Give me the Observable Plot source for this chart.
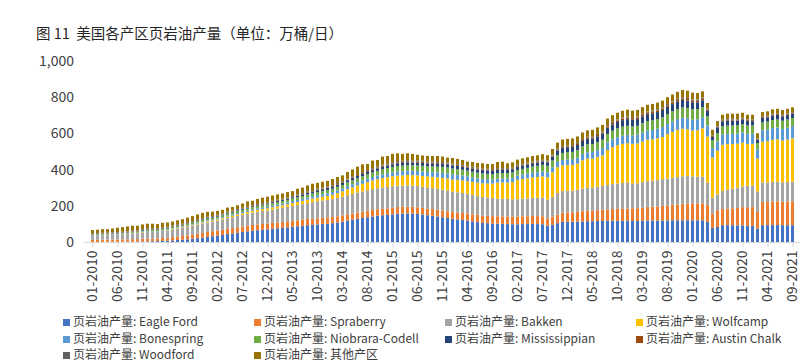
<!DOCTYPE html>
<html><head><meta charset="utf-8">
<script src="https://cdn.jsdelivr.net/npm/d3@7"></script>
<script src="https://cdn.jsdelivr.net/npm/@observablehq/plot@0.6"></script>
<style>
body{margin:0;background:#fff;font-family:"Noto Sans CJK SC","Noto Sans",sans-serif;}
#wrap{position:relative;width:811px;height:362px;overflow:hidden;background:#fff;}
#title{position:absolute;left:36px;top:23px;font-size:14.5px;color:#262626;white-space:pre;line-height:20px;}
#chart{position:absolute;left:0;top:0;}
.leg{position:absolute;font-size:12px;color:#404040;white-space:nowrap;line-height:14px;}
.leg i{display:inline-block;width:7px;height:7px;margin-right:3px;vertical-align:0px;}
</style></head><body>
<div id="wrap"><div id="chart"></div><div id="title">图 11  美国各产区页岩油产量（单位：万桶/日）</div><div id="legend"></div></div>
<script>
const seriesNames = ["页岩油产量: Eagle Ford","页岩油产量: Spraberry","页岩油产量: Bakken","页岩油产量: Wolfcamp","页岩油产量: Bonespring","页岩油产量: Niobrara-Codell","页岩油产量: Mississippian","页岩油产量: Austin Chalk","页岩油产量: Woodford","页岩油产量: 其他产区"];
const colors = ["#4472C4","#ED7D31","#A5A5A5","#FFC000","#5B9BD5","#70AD47","#264478","#9E480E","#636363","#997300"];

const eagleFord = [0,0,1,1,1,1,2,2,2,2,3,3,
4,5,6,7,9,11,13,15,18,21,24,28,
32,35,39,44,47,51,55,59,62,65,68,70,
73,76,78,81,84,87,90,93,95,97,99,100,
104,108,112,118,123,128,133,137,141,145,148,150,
153,156,157,158,157,155,152,148,145,141,137,133,
128,125,122,118,114,110,106,104,102,101,100,99,
98,98,99,99,100,99,98,90,95,104,111,112,
112,113,114,115,115,116,116,117,117,117,117,117,
116,116,117,118,118,118,119,119,120,120,120,120,
120,120,120,111,78,83,93,93,93,92,92,89,
89,74,93,93,94,94,93,93,93];
const spraberry = [12,12,12,12,13,13,13,13,14,14,15,15,
15,15,16,17,18,19,20,21,23,25,26,28,
28,29,29,30,30,31,31,31,32,32,32,32,
32,32,33,33,33,33,33,34,34,34,34,34,
34,34,35,35,35,35,35,36,36,36,36,36,
37,37,37,37,37,37,37,37,37,37,37,37,
37,38,38,39,39,40,40,40,41,41,41,42,
42,42,43,43,44,44,44,40,46,48,50,51,
52,54,56,57,58,60,62,63,65,66,67,68,
70,71,73,75,77,79,81,83,86,88,91,93,
93,93,93,93,80,93,89,91,93,96,100,103,
105,93,128,128,130,131,130,131,132];
const bakken = [22,23,24,25,26,27,28,30,32,33,35,37,
37,36,39,40,42,44,46,48,50,51,52,52,
52,54,56,58,60,62,64,66,68,70,71,72,
74,76,78,80,82,84,86,88,91,94,96,98,
99,101,103,106,108,110,112,113,115,116,117,118,
118,118,117,118,117,117,116,116,116,116,115,115,
113,112,111,109,107,105,103,102,100,98,98,97,
96,97,98,99,100,101,104,104,108,118,120,121,
120,122,125,127,127,129,132,135,138,140,142,144,
138,137,141,143,144,145,147,148,149,151,152,152,
150,148,148,124,87,87,100,105,108,112,115,118,
118,112,108,108,108,108,107,107,108];
const wolfcamp = [1,1,1,1,1,1,1,1,1,1,2,2,
2,2,2,2,3,3,3,4,4,5,5,6,
6,7,7,8,8,9,9,10,10,11,11,12,
13,14,14,15,16,17,18,19,20,20,21,22,
24,27,30,33,36,39,42,45,48,50,52,54,
55,56,57,57,58,59,60,61,62,63,65,66,
67,68,69,70,72,73,75,78,80,88,90,90,
95,106,108,111,113,115,116,123,136,143,142,141,
142,144,156,161,160,164,169,193,204,212,216,217,
218,221,224,229,228,231,233,246,253,261,263,258,
252,256,267,255,222,241,255,252,248,243,242,232,
230,181,225,228,232,234,230,235,240];
const bonespring = [2,2,2,2,2,2,2,2,2,2,3,3,
3,3,3,3,3,4,4,4,4,5,5,5,
5,5,6,6,6,7,7,7,8,8,8,9,
9,10,10,10,11,11,12,12,13,14,14,15,
15,16,16,17,17,18,18,19,19,20,21,22,
22,23,23,24,24,24,25,25,26,27,28,28,
28,27,27,26,25,24,24,23,22,22,22,23,
23,24,24,25,26,27,28,28,28,29,30,31,
32,33,35,36,37,38,40,42,43,44,45,46,
47,48,50,51,52,53,55,56,58,59,61,61,
61,61,61,61,52,52,56,56,56,56,56,56,
56,52,63,64,65,65,65,66,67];
const niobrara = [4,4,4,4,4,4,4,4,5,5,5,6,
6,6,6,6,7,7,7,8,8,9,9,10,
10,10,10,11,11,11,12,12,12,12,13,13,
13,13,14,14,14,15,15,16,16,17,17,18,
18,19,19,20,21,22,23,24,25,26,28,29,
30,30,31,31,31,31,31,31,32,32,33,33,
33,33,32,32,31,31,31,30,30,30,30,30,
30,31,32,33,34,35,36,36,37,38,39,40,
40,41,42,43,44,45,46,47,48,49,50,50,
49,49,51,52,53,53,54,55,56,56,57,57,
57,56,56,50,43,46,46,46,46,46,46,46,
46,35,44,44,45,45,45,45,45];
const mississippian = [2,2,2,2,2,2,2,2,2,2,3,3,
3,3,3,3,3,3,3,3,3,4,4,4,
4,4,4,4,4,4,5,5,5,5,5,5,
6,6,6,7,7,8,8,9,9,10,10,11,
11,12,12,12,13,13,13,13,13,14,14,14,
14,15,15,15,15,15,16,16,16,16,17,17,
17,17,17,17,17,18,18,18,18,18,18,18,
18,18,18,18,18,18,18,19,22,25,27,28,
28,29,30,31,31,32,33,34,35,35,36,37,
37,37,38,38,39,39,40,40,40,41,41,40,
39,38,38,31,18,31,28,28,27,26,26,24,
24,18,24,24,25,25,24,24,24];
const austinChalk = [2,2,2,2,2,2,2,2,2,2,2,2,
2,2,2,2,2,2,2,2,2,2,2,2,
2,2,2,2,3,3,3,3,3,3,3,3,
3,3,3,3,3,3,4,4,4,4,4,4,
4,4,4,4,5,5,5,5,5,5,6,6,
6,6,6,6,6,6,6,6,6,5,5,5,
5,5,5,5,5,5,5,5,5,5,5,5,
5,5,5,5,5,5,5,5,5,5,5,5,
5,6,6,6,7,7,7,8,8,8,9,9,
9,9,9,9,9,9,9,9,9,9,9,9,
9,9,9,7,5,5,5,5,5,5,5,5,
5,3,5,5,5,5,5,5,5];
const woodford = [3,3,3,3,3,3,3,3,3,3,4,4,
4,4,4,4,4,4,4,4,4,4,4,4,
4,4,4,4,4,4,4,4,4,4,4,4,
4,4,4,4,4,5,5,5,5,5,5,5,
5,5,5,5,5,5,5,5,6,6,6,6,
6,6,6,6,6,6,6,6,6,5,5,5,
5,5,5,5,5,5,5,5,5,5,5,5,
5,5,5,5,5,5,5,5,5,5,5,5,
5,5,5,5,5,6,6,6,6,6,6,6,
6,6,6,6,6,6,6,6,6,6,6,6,
6,6,6,5,4,4,4,4,4,4,4,4,
4,3,4,4,4,4,4,4,4];
const others = [18,19,20,19,21,24,25,27,27,26,25,26,
25,23,25,24,22,23,24,26,27,26,30,28,
25,22,21,23,21,21,23,27,24,28,30,30,
30,29,28,29,27,31,29,33,35,32,33,31,
34,33,32,37,38,41,43,34,42,35,44,40,
46,43,38,38,36,32,29,30,29,33,30,27,
31,29,27,23,27,26,28,26,28,34,35,26,
28,29,30,30,30,30,31,30,32,34,37,36,
36,36,36,36,36,36,36,37,37,37,37,37,
36,36,36,37,37,37,37,38,38,39,40,40,
38,36,34,31,31,26,27,29,29,29,28,26,
26,30,24,24,25,25,26,26,26];

const seriesValues = [eagleFord, spraberry, bakken, wolfcamp, bonespring, niobrara, mississippian, austinChalk, woodford, others];

// month categories 01-2010 .. 09-2021
const months = [];
for (let y = 2010; y <= 2021; y++) for (let m = 1; m <= 12; m++) {
  if (y === 2021 && m > 9) break;
  months.push(String(m).padStart(2, "0") + "-" + y);
}
const tickMonths = months.filter((d, i) => i % 5 === 0);
const yTicks = [0, 200, 400, 600, 800, 1000];

const rows = [];
seriesNames.forEach((s, k) => months.forEach((mo, i) => rows.push({month: mo, series: s, value: seriesValues[k][i] ?? 0})));

const chart = Plot.plot({
  width: 811, height: 310,
  marginLeft: 84.5, marginRight: 11, marginTop: 61, marginBottom: 68,
  style: {fontFamily: '"Noto Sans CJK SC","Noto Sans",sans-serif', fontSize: "14px", color: "#404040", background: "transparent"},
  x: {domain: months, padding: 0.4, label: null, axis: null},
  y: {domain: [0, 1000], label: null, axis: null},
  color: {domain: seriesNames, range: colors},
  marks: [
    Plot.barY(rows, {x: "month", y: "value", fill: "series", order: seriesNames}),
    Plot.ruleY([0], {stroke: "#d9d9d9", strokeWidth: 1}),
    Plot.axisX({ticks: tickMonths, tickRotate: -90, tickSize: 5, tickPadding: 3, stroke: "#d9d9d9", fill: "#404040", fontSize: 14, label: null}),
    Plot.axisY({ticks: yTicks, tickFormat: d3.format(","), tickSize: 0, tickPadding: 11, fill: "#404040", fontSize: 14, label: null})
  ]
});
document.getElementById("chart").appendChild(chart);

// legend
const legCols = [63, 254, 445, 636];
const legRows = [314, 331, 347];
const legend = document.getElementById("legend");
seriesNames.forEach((s, k) => {
  const d = document.createElement("div");
  d.className = "leg";
  d.style.left = legCols[k % 4] + "px";
  d.style.top = legRows[Math.floor(k / 4)] + "px";
  d.innerHTML = `<i style="background:${colors[k]}"></i>${s}`;
  legend.appendChild(d);
});
</script>
</body></html>
